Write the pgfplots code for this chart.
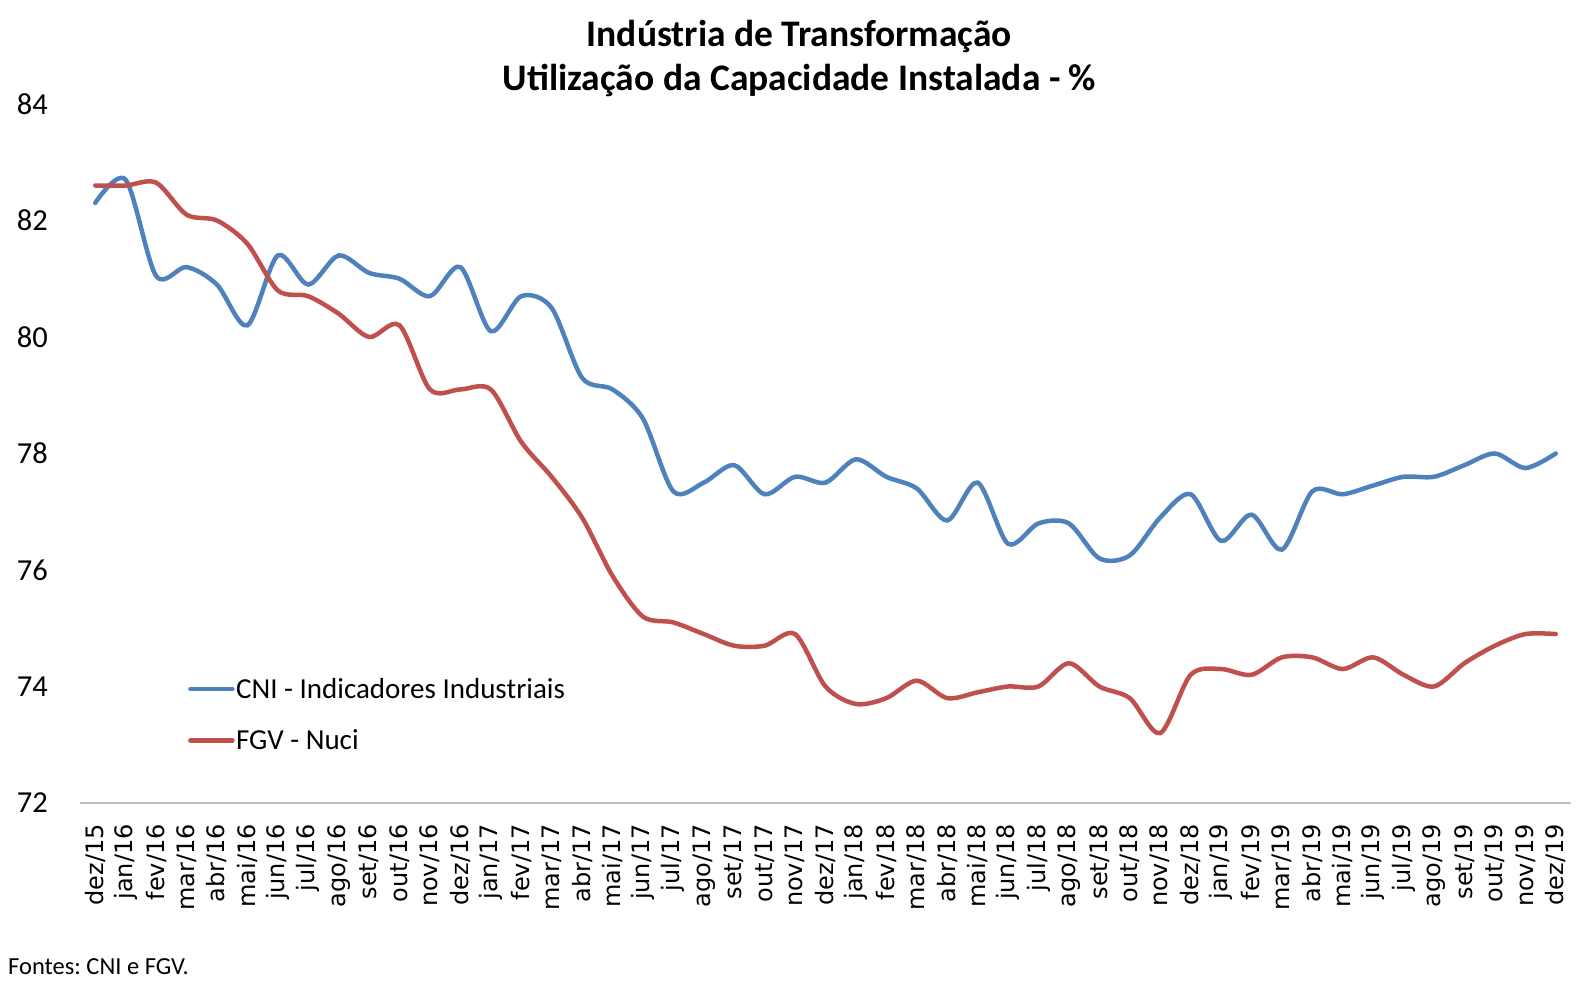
\documentclass[border=0pt]{standalone}
\usepackage{fontspec}
\setmainfont{Carlito}
\newfontfamily\dejavu{DejaVu Sans}
\usepackage{pgfplots}
\pgfplotsset{compat=1.18}
\definecolor{cniblue}{HTML}{4F81BD}
\definecolor{fgvred}{HTML}{C0504D}
\definecolor{axgray}{HTML}{BFBFBF}
\frenchspacing
\begin{document}
\begin{tikzpicture}
\path[use as bounding box] (0,0) rectangle (1580pt,984pt);
\begin{axis}[
  at={(80pt,181pt)}, anchor=south west,
  scale only axis, width=1491pt, height=699pt,
  xmin=-0.5, xmax=48.5, ymin=72, ymax=84,
  ytick={72,74,...,84},
  xtick={0,...,48},
  xticklabels={dez/15,jan/16,fev/16,mar/16,abr/16,mai/16,jun/16,jul/16,ago/16,set/16,out/16,nov/16,dez/16,jan/17,fev/17,mar/17,abr/17,mai/17,jun/17,jul/17,ago/17,set/17,out/17,nov/17,dez/17,jan/18,fev/18,mar/18,abr/18,mai/18,jun/18,jul/18,ago/18,set/18,out/18,nov/18,dez/18,jan/19,fev/19,mar/19,abr/19,mai/19,jun/19,jul/19,ago/19,set/19,out/19,nov/19,dez/19},
  axis x line=bottom, axis y line=left,
  x axis line style={-, draw=axgray, line width=1.8pt},
  y axis line style={draw=none},
  major tick length=0pt,
  tick style={draw=none},
  /pgf/number format/assume math mode=true,
  yticklabel style={font=\fontsize{30.5}{36}\selectfont, anchor=east, inner sep=0pt, xshift=-32pt},
  xticklabel style={font=\dejavu\fontsize{24}{29}\selectfont, rotate=90, anchor=east, inner xsep=21pt, inner ysep=0pt},
  title={Indústria de Transformação\\Utilização da Capacidade Instalada - \%},
  title style={at={(0.4825,1.056)}, anchor=center, align=center, font=\bfseries\fontsize{37.5}{44}\selectfont},
  legend style={at={(0.0724,0.181)}, anchor=north west, draw=none, fill=none,
    font=\fontsize{29}{35}\selectfont, inner sep=0pt, row sep=27pt,
    nodes={inner sep=1.5pt}, cells={anchor=west}},
  legend image code/.code={\draw[#1, line width=4.5pt] (0pt,0pt) -- (42pt,0pt);},
  clip=false,
]
\addplot[cniblue, line width=4.5pt, line cap=round, smooth] coordinates {
(0,82.3) (1,82.7) (2,81.05) (3,81.2) (4,80.9) (5,80.2) (6,81.4) (7,80.9) (8,81.4) (9,81.1)
(10,81.0) (11,80.7) (12,81.2) (13,80.1) (14,80.7) (15,80.5) (16,79.3) (17,79.1) (18,78.6) (19,77.35)
(20,77.5) (21,77.8) (22,77.3) (23,77.6) (24,77.5) (25,77.9) (26,77.6) (27,77.4) (28,76.85) (29,77.5)
(30,76.45) (31,76.8) (32,76.8) (33,76.2) (34,76.25) (35,76.9) (36,77.3) (37,76.5) (38,76.95) (39,76.35)
(40,77.35) (41,77.3) (42,77.45) (43,77.6) (44,77.6) (45,77.8) (46,78.0) (47,77.75) (48,78.0)
};
\addlegendentry{CNI - Indicadores Industriais}
\addplot[fgvred, line width=4.5pt, line cap=round, smooth] coordinates {
(0,82.6) (1,82.6) (2,82.65) (3,82.1) (4,82.0) (5,81.6) (6,80.8) (7,80.7) (8,80.4) (9,80.0)
(10,80.2) (11,79.1) (12,79.1) (13,79.1) (14,78.2) (15,77.6) (16,76.9) (17,75.9) (18,75.2) (19,75.1)
(20,74.9) (21,74.7) (22,74.7) (23,74.9) (24,74.0) (25,73.7) (26,73.8) (27,74.1) (28,73.8) (29,73.9)
(30,74.0) (31,74.0) (32,74.4) (33,74.0) (34,73.8) (35,73.2) (36,74.2) (37,74.3) (38,74.2) (39,74.5)
(40,74.5) (41,74.3) (42,74.5) (43,74.2) (44,74.0) (45,74.4) (46,74.7) (47,74.9) (48,74.9)
};
\addlegendentry{FGV - Nuci}
\end{axis}
\node[anchor=west, inner sep=0pt, font=\fontsize{24.5}{29}\selectfont] at (8pt,17pt) {Fontes: CNI e FGV.};
\end{tikzpicture}
\end{document}
